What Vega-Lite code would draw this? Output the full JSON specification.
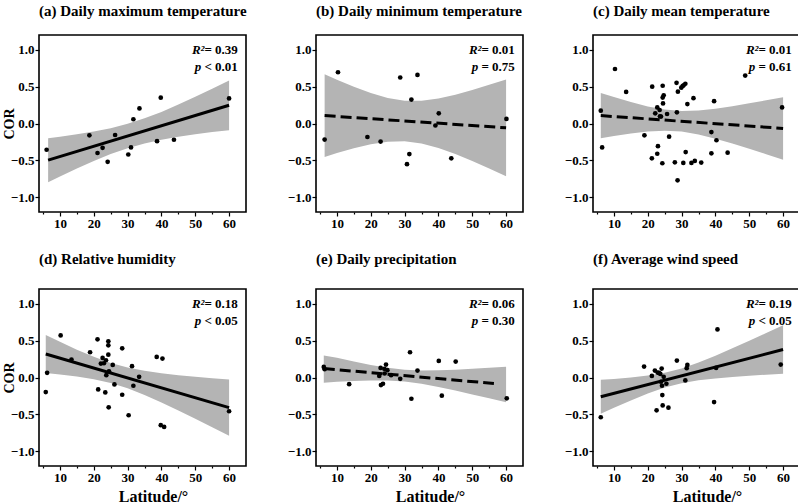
{
"$schema":"https://vega.github.io/schema/vega-lite/v6.json",
"padding":{"left":1,"top":3,"right":0,"bottom":0},
"background":"white",
"config":{
 "font":"Liberation Serif",
 "view":{"stroke":"black","strokeWidth":1.6},
 "axis":{"domain":false,"grid":false,"tickColor":"black","tickWidth":1.2,"labelFont":"Liberation Serif","labelFontWeight":"bold","labelFontSize":13,"labelColor":"black","titleFont":"Liberation Serif","titleFontWeight":"bold","titleColor":"black","titleFontSize":16},
 "title":{"font":"Liberation Serif","fontSize":15,"fontWeight":"bold","color":"black","anchor":"start","frame":"group","baseline":"alphabetic"}
},
"datasets":{
 "pts":[
  {"panel":"a","lat":6.05,"cor":-0.356},{"panel":"a","lat":18.7,"cor":-0.16},{"panel":"a","lat":21.1,"cor":-0.40},{"panel":"a","lat":22.6,"cor":-0.33},{"panel":"a","lat":24.1,"cor":-0.52},{"panel":"a","lat":26.3,"cor":-0.156},{"panel":"a","lat":30.2,"cor":-0.42},{"panel":"a","lat":31.0,"cor":-0.325},{"panel":"a","lat":31.7,"cor":0.058},{"panel":"a","lat":33.5,"cor":0.205},{"panel":"a","lat":38.7,"cor":-0.24},{"panel":"a","lat":39.8,"cor":0.35},{"panel":"a","lat":43.7,"cor":-0.22},{"panel":"a","lat":60,"cor":0.34},
  {"panel":"b","lat":6.35,"cor":-0.218},{"panel":"b","lat":10.3,"cor":0.695},{"panel":"b","lat":19.0,"cor":-0.183},{"panel":"b","lat":22.9,"cor":-0.245},{"panel":"b","lat":28.7,"cor":0.624},{"panel":"b","lat":30.7,"cor":-0.552},{"panel":"b","lat":31.4,"cor":-0.414},{"panel":"b","lat":32.0,"cor":0.325},{"panel":"b","lat":33.8,"cor":0.659},{"panel":"b","lat":39.1,"cor":-0.027},{"panel":"b","lat":40.1,"cor":0.138},{"panel":"b","lat":43.8,"cor":-0.472},{"panel":"b","lat":60.1,"cor":0.062},
  {"panel":"c","lat":6.1,"cor":0.174},{"panel":"c","lat":6.5,"cor":-0.325},{"panel":"c","lat":10.3,"cor":0.739},{"panel":"c","lat":13.6,"cor":0.428},{"panel":"c","lat":19.0,"cor":-0.16},{"panel":"c","lat":21.3,"cor":0.499},{"panel":"c","lat":21.2,"cor":-0.472},{"panel":"c","lat":22.2,"cor":0.138},{"panel":"c","lat":22.8,"cor":0.218},{"panel":"c","lat":23.0,"cor":-0.307},{"panel":"c","lat":22.8,"cor":-0.41},{"panel":"c","lat":23.5,"cor":0.183},{"panel":"c","lat":23.6,"cor":0.098},{"panel":"c","lat":23.9,"cor":0.094},{"panel":"c","lat":24.4,"cor":0.512},{"panel":"c","lat":24.4,"cor":0.352},{"panel":"c","lat":24.7,"cor":0.383},{"panel":"c","lat":24.5,"cor":0.272},{"panel":"c","lat":24.3,"cor":-0.539},{"panel":"c","lat":25.7,"cor":0.129},{"panel":"c","lat":26.3,"cor":-0.178},{"panel":"c","lat":28.0,"cor":-0.526},{"panel":"c","lat":28.5,"cor":0.552},{"panel":"c","lat":28.6,"cor":0.151},{"panel":"c","lat":28.9,"cor":0.432},{"panel":"c","lat":28.8,"cor":-0.771},{"panel":"c","lat":29.9,"cor":0.486},{"panel":"c","lat":30.3,"cor":0.508},{"panel":"c","lat":30.6,"cor":0.517},{"panel":"c","lat":30.5,"cor":-0.535},{"panel":"c","lat":31.1,"cor":0.539},{"panel":"c","lat":31.2,"cor":-0.388},{"panel":"c","lat":31.7,"cor":0.263},{"panel":"c","lat":32.9,"cor":-0.535},{"panel":"c","lat":33.5,"cor":0.343},{"panel":"c","lat":33.9,"cor":-0.508},{"panel":"c","lat":35.8,"cor":-0.53},{"panel":"c","lat":38.8,"cor":-0.116},{"panel":"c","lat":38.8,"cor":-0.405},{"panel":"c","lat":39.6,"cor":0.303},{"panel":"c","lat":40.3,"cor":-0.227},{"panel":"c","lat":43.6,"cor":-0.396},{"panel":"c","lat":48.8,"cor":0.65},{"panel":"c","lat":59.7,"cor":0.218},
  {"panel":"d","lat":5.8,"cor":-0.198},{"panel":"d","lat":6.2,"cor":0.063},{"panel":"d","lat":10.2,"cor":0.571},{"panel":"d","lat":13.4,"cor":0.243},{"panel":"d","lat":18.9,"cor":0.342},{"panel":"d","lat":21.1,"cor":0.517},{"panel":"d","lat":21.3,"cor":-0.162},{"panel":"d","lat":22.1,"cor":0.189},{"panel":"d","lat":22.6,"cor":0.265},{"panel":"d","lat":23.0,"cor":0.193},{"panel":"d","lat":23.4,"cor":-0.202},{"panel":"d","lat":23.6,"cor":0.234},{"panel":"d","lat":23.7,"cor":0.031},{"panel":"d","lat":24.3,"cor":0.49},{"panel":"d","lat":24.3,"cor":0.436},{"panel":"d","lat":24.3,"cor":0.31},{"panel":"d","lat":24.4,"cor":-0.404},{"panel":"d","lat":24.5,"cor":0.085},{"panel":"d","lat":25.6,"cor":0.171},{"panel":"d","lat":26.1,"cor":-0.094},{"panel":"d","lat":28.4,"cor":0.396},{"panel":"d","lat":28.4,"cor":-0.234},{"panel":"d","lat":30.3,"cor":-0.512},{"panel":"d","lat":31.3,"cor":0.153},{"panel":"d","lat":31.7,"cor":-0.112},{"panel":"d","lat":33.4,"cor":0.009},{"panel":"d","lat":38.6,"cor":0.279},{"panel":"d","lat":40.3,"cor":0.256},{"panel":"d","lat":39.8,"cor":-0.647},{"panel":"d","lat":40.8,"cor":-0.67},{"panel":"d","lat":60,"cor":-0.458},
  {"panel":"e","lat":6.1,"cor":0.144},{"panel":"e","lat":6.35,"cor":0.112},{"panel":"e","lat":13.6,"cor":-0.09},{"panel":"e","lat":22.5,"cor":0.022},{"panel":"e","lat":22.9,"cor":0.13},{"panel":"e","lat":23.0,"cor":-0.103},{"panel":"e","lat":23.6,"cor":-0.085},{"panel":"e","lat":24.0,"cor":0.117},{"panel":"e","lat":24.1,"cor":0.054},{"panel":"e","lat":24.5,"cor":0.175},{"panel":"e","lat":24.9,"cor":0.099},{"panel":"e","lat":26.0,"cor":0.031},{"panel":"e","lat":28.7,"cor":-0.018},{"panel":"e","lat":31.6,"cor":0.342},{"panel":"e","lat":32.0,"cor":-0.288},{"panel":"e","lat":33.8,"cor":0.094},{"panel":"e","lat":40.1,"cor":0.225},{"panel":"e","lat":41.0,"cor":-0.247},{"panel":"e","lat":45.1,"cor":0.216},{"panel":"e","lat":60.2,"cor":-0.283},
  {"panel":"f","lat":6.1,"cor":-0.539},{"panel":"f","lat":18.9,"cor":0.148},{"panel":"f","lat":21.2,"cor":0.022},{"panel":"f","lat":22.1,"cor":0.094},{"panel":"f","lat":22.6,"cor":-0.445},{"panel":"f","lat":22.9,"cor":0.067},{"panel":"f","lat":23.3,"cor":0.063},{"panel":"f","lat":23.7,"cor":0.049},{"panel":"f","lat":23.9,"cor":-0.058},{"panel":"f","lat":24.1,"cor":0.121},{"panel":"f","lat":24.2,"cor":-0.112},{"panel":"f","lat":24.3,"cor":-0.238},{"panel":"f","lat":24.4,"cor":-0.378},{"panel":"f","lat":24.7,"cor":0.009},{"panel":"f","lat":25.5,"cor":-0.085},{"panel":"f","lat":26.1,"cor":-0.409},{"panel":"f","lat":28.6,"cor":0.229},{"panel":"f","lat":31.1,"cor":-0.04},{"panel":"f","lat":31.5,"cor":0.126},{"panel":"f","lat":31.7,"cor":0.171},{"panel":"f","lat":39.6,"cor":-0.333},{"panel":"f","lat":40.2,"cor":0.13},{"panel":"f","lat":40.6,"cor":0.652},{"panel":"f","lat":59.3,"cor":0.175}
 ],
 "band":[
  {"panel":"a","lat":6.5,"lo":-0.795,"hi":-0.199},{"panel":"a","lat":10,"lo":-0.717,"hi":-0.179},{"panel":"a","lat":15,"lo":-0.610,"hi":-0.147},{"panel":"a","lat":20,"lo":-0.508,"hi":-0.110},{"panel":"a","lat":25,"lo":-0.415,"hi":-0.063},{"panel":"a","lat":30,"lo":-0.335,"hi":-0.005},{"panel":"a","lat":35,"lo":-0.270,"hi":0.070},{"panel":"a","lat":40,"lo":-0.219,"hi":0.157},{"panel":"a","lat":45,"lo":-0.179,"hi":0.257},{"panel":"a","lat":50,"lo":-0.146,"hi":0.362},{"panel":"a","lat":55,"lo":-0.116,"hi":0.472},{"panel":"a","lat":60,"lo":-0.090,"hi":0.584},
  {"panel":"b","lat":6.35,"lo":-0.453,"hi":0.667},{"panel":"b","lat":10,"lo":-0.401,"hi":0.593},{"panel":"b","lat":15,"lo":-0.337,"hi":0.497},{"panel":"b","lat":20,"lo":-0.283,"hi":0.413},{"panel":"b","lat":25,"lo":-0.248,"hi":0.347},{"panel":"b","lat":30,"lo":-0.242,"hi":0.310},{"panel":"b","lat":35,"lo":-0.272,"hi":0.310},{"panel":"b","lat":40,"lo":-0.333,"hi":0.340},{"panel":"b","lat":45,"lo":-0.414,"hi":0.390},{"panel":"b","lat":50,"lo":-0.508,"hi":0.453},{"panel":"b","lat":55,"lo":-0.609,"hi":0.524},{"panel":"b","lat":60,"lo":-0.714,"hi":0.598},
  {"panel":"c","lat":6.1,"lo":-0.200,"hi":0.414},{"panel":"c","lat":10,"lo":-0.170,"hi":0.358},{"panel":"c","lat":15,"lo":-0.135,"hi":0.292},{"panel":"c","lat":20,"lo":-0.108,"hi":0.232},{"panel":"c","lat":25,"lo":-0.097,"hi":0.189},{"panel":"c","lat":30,"lo":-0.110,"hi":0.170},{"panel":"c","lat":35,"lo":-0.150,"hi":0.177},{"panel":"c","lat":40,"lo":-0.206,"hi":0.201},{"panel":"c","lat":45,"lo":-0.272,"hi":0.235},{"panel":"c","lat":50,"lo":-0.343,"hi":0.273},{"panel":"c","lat":55,"lo":-0.416,"hi":0.314},{"panel":"c","lat":60,"lo":-0.491,"hi":0.357},
  {"panel":"d","lat":5.8,"lo":0.061,"hi":0.577},{"panel":"d","lat":10,"lo":0.041,"hi":0.484},{"panel":"d","lat":15,"lo":0.013,"hi":0.377},{"panel":"d","lat":20,"lo":-0.023,"hi":0.280},{"panel":"d","lat":25,"lo":-0.075,"hi":0.197},{"panel":"d","lat":30,"lo":-0.146,"hi":0.134},{"panel":"d","lat":35,"lo":-0.236,"hi":0.090},{"panel":"d","lat":40,"lo":-0.338,"hi":0.057},{"panel":"d","lat":45,"lo":-0.447,"hi":0.032},{"panel":"d","lat":50,"lo":-0.559,"hi":0.010},{"panel":"d","lat":55,"lo":-0.674,"hi":-0.009},{"panel":"d","lat":60,"lo":-0.791,"hi":-0.027},
  {"panel":"e","lat":6.1,"lo":-0.070,"hi":0.300},{"panel":"e","lat":10,"lo":-0.056,"hi":0.267},{"panel":"e","lat":15,"lo":-0.046,"hi":0.216},{"panel":"e","lat":20,"lo":-0.039,"hi":0.169},{"panel":"e","lat":25,"lo":-0.041,"hi":0.131},{"panel":"e","lat":30,"lo":-0.055,"hi":0.105},{"panel":"e","lat":35,"lo":-0.086,"hi":0.096},{"panel":"e","lat":40,"lo":-0.129,"hi":0.098},{"panel":"e","lat":45,"lo":-0.177,"hi":0.106},{"panel":"e","lat":50,"lo":-0.229,"hi":0.118},{"panel":"e","lat":55,"lo":-0.282,"hi":0.131},{"panel":"e","lat":60,"lo":-0.337,"hi":0.145},
  {"panel":"f","lat":6.1,"lo":-0.490,"hi":-0.032},{"panel":"f","lat":10,"lo":-0.410,"hi":-0.019},{"panel":"f","lat":15,"lo":-0.311,"hi":0.000},{"panel":"f","lat":20,"lo":-0.217,"hi":0.026},{"panel":"f","lat":25,"lo":-0.136,"hi":0.064},{"panel":"f","lat":30,"lo":-0.077,"hi":0.123},{"panel":"f","lat":35,"lo":-0.038,"hi":0.203},{"panel":"f","lat":40,"lo":-0.012,"hi":0.296},{"panel":"f","lat":45,"lo":0.007,"hi":0.396},{"panel":"f","lat":50,"lo":0.024,"hi":0.498},{"panel":"f","lat":55,"lo":0.038,"hi":0.603},{"panel":"f","lat":60,"lo":0.052,"hi":0.708}
 ],
 "fit":[
  {"panel":"a","lat":6.5,"fit":-0.497},{"panel":"a","lat":60,"fit":0.247},
  {"panel":"b","lat":6.35,"fit":0.107},{"panel":"b","lat":60,"fit":-0.058},
  {"panel":"c","lat":6.1,"fit":0.107},{"panel":"c","lat":60,"fit":-0.067},
  {"panel":"d","lat":5.8,"fit":0.319},{"panel":"d","lat":60,"fit":-0.409},
  {"panel":"e","lat":6.1,"fit":0.121},{"panel":"e","lat":56.4,"fit":-0.081},
  {"panel":"f","lat":6.1,"fit":-0.261},{"panel":"f","lat":60,"fit":0.380}
 ],
 "stats":[
  {"panel":"a","r2":"= 0.39","pv":"< 0.01"},
  {"panel":"b","r2":"= 0.01","pv":"= 0.75"},
  {"panel":"c","r2":"= 0.01","pv":"= 0.61"},
  {"panel":"d","r2":"= 0.18","pv":"< 0.05"},
  {"panel":"e","r2":"= 0.06","pv":"= 0.30"},
  {"panel":"f","r2":"= 0.19","pv":"< 0.05"}
 ]
},
"columns":3,
"spacing":{"row":77,"column":70},
"bounds":"flush",
"concat":[
 {"width":207,"height":177,"title":{"text":"(a) Daily maximum temperature","offset":16},
  "resolve":{"axis":{"x":"independent","y":"independent"}},
  "layer":[
   {"data":{"name":"band"},"transform":[{"filter":"datum.panel==='a'"}],"mark":{"type":"area","color":"#b4b4b4","opacity":1},
    "encoding":{"x":{"field":"lat","type":"quantitative","scale":{"domain":[3.8,65],"nice":false,"zero":false},"axis":{"orient":"bottom","values":[5,15,25,35,45,55],"labels":false,"tickSize":2,"title":null}},"y":{"field":"lo","type":"quantitative","scale":{"domain":[-1.2,1.2],"nice":false,"zero":false},"axis":null},"y2":{"field":"hi"}}},
   {"data":{"name":"fit"},"transform":[{"filter":"datum.panel==='a'"}],"mark":{"type":"line","color":"black","strokeWidth":3},
    "encoding":{"x":{"field":"lat","type":"quantitative","scale":{"domain":[3.8,65],"nice":false,"zero":false},"axis":null},"y":{"field":"fit","type":"quantitative","scale":{"domain":[-1.2,1.2],"nice":false,"zero":false},"axis":null}}},
   {"data":{"name":"pts"},"transform":[{"filter":"datum.panel==='a'"}],"mark":{"type":"circle","color":"black","size":22,"opacity":1},
    "encoding":{"x":{"field":"lat","type":"quantitative","scale":{"domain":[3.8,65],"nice":false,"zero":false},"axis":{"orient":"bottom","values":[10,20,30,40,50,60],"tickSize":4,"labelPadding":1,"title":null}},"y":{"field":"cor","type":"quantitative","scale":{"domain":[-1.2,1.2],"nice":false,"zero":false},"axis":{"orient":"left","values":[-1,-0.5,0,0.5,1],"format":".1f","tickSize":4,"labelPadding":1,"title":"COR","titleFontSize":14,"titlePadding":-6}}}},
   {"data":{"name":"stats"},"transform":[{"filter":"datum.panel==='a'"}],"mark":{"type":"text","align":"right","baseline":"middle","fontSize":13,"fontWeight":"bold","color":"black"},
    "encoding":{"x":{"datum":62.6,"type":"quantitative","scale":{"domain":[3.8,65],"nice":false,"zero":false},"axis":null},"y":{"datum":1.0,"type":"quantitative","scale":{"domain":[-1.2,1.2],"nice":false,"zero":false},"axis":null},"text":{"field":"r2"}}},
   {"data":{"name":"stats"},"transform":[{"filter":"datum.panel==='a'"}],"mark":{"type":"text","align":"right","baseline":"middle","fontSize":13,"fontWeight":"bold","fontStyle":"italic","color":"black","dx":-33.4},
    "encoding":{"x":{"datum":62.6,"type":"quantitative","scale":{"domain":[3.8,65],"nice":false,"zero":false},"axis":null},"y":{"datum":1.0,"type":"quantitative","scale":{"domain":[-1.2,1.2],"nice":false,"zero":false},"axis":null},"text":{"value":"R²"}}},
   {"data":{"name":"stats"},"transform":[{"filter":"datum.panel==='a'"}],"mark":{"type":"text","align":"right","baseline":"middle","fontSize":13,"fontWeight":"bold","color":"black"},
    "encoding":{"x":{"datum":62.6,"type":"quantitative","scale":{"domain":[3.8,65],"nice":false,"zero":false},"axis":null},"y":{"datum":0.77,"type":"quantitative","scale":{"domain":[-1.2,1.2],"nice":false,"zero":false},"axis":null},"text":{"field":"pv"}}},
   {"data":{"name":"stats"},"transform":[{"filter":"datum.panel==='a'"}],"mark":{"type":"text","align":"right","baseline":"middle","fontSize":13,"fontWeight":"bold","fontStyle":"italic","color":"black","dx":-36.7},
    "encoding":{"x":{"datum":62.6,"type":"quantitative","scale":{"domain":[3.8,65],"nice":false,"zero":false},"axis":null},"y":{"datum":0.77,"type":"quantitative","scale":{"domain":[-1.2,1.2],"nice":false,"zero":false},"axis":null},"text":{"value":"p"}}}
  ]},
 {"width":207,"height":177,"title":{"text":"(b) Daily minimum temperature","offset":16},
  "resolve":{"axis":{"x":"independent","y":"independent"}},
  "layer":[
   {"data":{"name":"band"},"transform":[{"filter":"datum.panel==='b'"}],"mark":{"type":"area","color":"#b4b4b4","opacity":1},
    "encoding":{"x":{"field":"lat","type":"quantitative","scale":{"domain":[3.8,65],"nice":false,"zero":false},"axis":{"orient":"bottom","values":[5,15,25,35,45,55],"labels":false,"tickSize":2,"title":null}},"y":{"field":"lo","type":"quantitative","scale":{"domain":[-1.2,1.2],"nice":false,"zero":false},"axis":null},"y2":{"field":"hi"}}},
   {"data":{"name":"fit"},"transform":[{"filter":"datum.panel==='b'"}],"mark":{"type":"line","color":"black","strokeWidth":3,"strokeDash":[11,5]},
    "encoding":{"x":{"field":"lat","type":"quantitative","scale":{"domain":[3.8,65],"nice":false,"zero":false},"axis":null},"y":{"field":"fit","type":"quantitative","scale":{"domain":[-1.2,1.2],"nice":false,"zero":false},"axis":null}}},
   {"data":{"name":"pts"},"transform":[{"filter":"datum.panel==='b'"}],"mark":{"type":"circle","color":"black","size":22,"opacity":1},
    "encoding":{"x":{"field":"lat","type":"quantitative","scale":{"domain":[3.8,65],"nice":false,"zero":false},"axis":{"orient":"bottom","values":[10,20,30,40,50,60],"tickSize":4,"labelPadding":1,"title":null}},"y":{"field":"cor","type":"quantitative","scale":{"domain":[-1.2,1.2],"nice":false,"zero":false},"axis":{"orient":"left","values":[-1,-0.5,0,0.5,1],"format":".1f","tickSize":4,"labelPadding":1,"title":null}}}},
   {"data":{"name":"stats"},"transform":[{"filter":"datum.panel==='b'"}],"mark":{"type":"text","align":"right","baseline":"middle","fontSize":13,"fontWeight":"bold","color":"black"},
    "encoding":{"x":{"datum":62.6,"type":"quantitative","scale":{"domain":[3.8,65],"nice":false,"zero":false},"axis":null},"y":{"datum":1.0,"type":"quantitative","scale":{"domain":[-1.2,1.2],"nice":false,"zero":false},"axis":null},"text":{"field":"r2"}}},
   {"data":{"name":"stats"},"transform":[{"filter":"datum.panel==='b'"}],"mark":{"type":"text","align":"right","baseline":"middle","fontSize":13,"fontWeight":"bold","fontStyle":"italic","color":"black","dx":-33.4},
    "encoding":{"x":{"datum":62.6,"type":"quantitative","scale":{"domain":[3.8,65],"nice":false,"zero":false},"axis":null},"y":{"datum":1.0,"type":"quantitative","scale":{"domain":[-1.2,1.2],"nice":false,"zero":false},"axis":null},"text":{"value":"R²"}}},
   {"data":{"name":"stats"},"transform":[{"filter":"datum.panel==='b'"}],"mark":{"type":"text","align":"right","baseline":"middle","fontSize":13,"fontWeight":"bold","color":"black"},
    "encoding":{"x":{"datum":62.6,"type":"quantitative","scale":{"domain":[3.8,65],"nice":false,"zero":false},"axis":null},"y":{"datum":0.77,"type":"quantitative","scale":{"domain":[-1.2,1.2],"nice":false,"zero":false},"axis":null},"text":{"field":"pv"}}},
   {"data":{"name":"stats"},"transform":[{"filter":"datum.panel==='b'"}],"mark":{"type":"text","align":"right","baseline":"middle","fontSize":13,"fontWeight":"bold","fontStyle":"italic","color":"black","dx":-36.7},
    "encoding":{"x":{"datum":62.6,"type":"quantitative","scale":{"domain":[3.8,65],"nice":false,"zero":false},"axis":null},"y":{"datum":0.77,"type":"quantitative","scale":{"domain":[-1.2,1.2],"nice":false,"zero":false},"axis":null},"text":{"value":"p"}}}
  ]},
 {"width":207,"height":177,"title":{"text":"(c) Daily mean temperature","offset":16},
  "resolve":{"axis":{"x":"independent","y":"independent"}},
  "layer":[
   {"data":{"name":"band"},"transform":[{"filter":"datum.panel==='c'"}],"mark":{"type":"area","color":"#b4b4b4","opacity":1},
    "encoding":{"x":{"field":"lat","type":"quantitative","scale":{"domain":[3.8,65],"nice":false,"zero":false},"axis":{"orient":"bottom","values":[5,15,25,35,45,55],"labels":false,"tickSize":2,"title":null}},"y":{"field":"lo","type":"quantitative","scale":{"domain":[-1.2,1.2],"nice":false,"zero":false},"axis":null},"y2":{"field":"hi"}}},
   {"data":{"name":"fit"},"transform":[{"filter":"datum.panel==='c'"}],"mark":{"type":"line","color":"black","strokeWidth":3,"strokeDash":[11,5]},
    "encoding":{"x":{"field":"lat","type":"quantitative","scale":{"domain":[3.8,65],"nice":false,"zero":false},"axis":null},"y":{"field":"fit","type":"quantitative","scale":{"domain":[-1.2,1.2],"nice":false,"zero":false},"axis":null}}},
   {"data":{"name":"pts"},"transform":[{"filter":"datum.panel==='c'"}],"mark":{"type":"circle","color":"black","size":22,"opacity":1},
    "encoding":{"x":{"field":"lat","type":"quantitative","scale":{"domain":[3.8,65],"nice":false,"zero":false},"axis":{"orient":"bottom","values":[10,20,30,40,50,60],"tickSize":4,"labelPadding":1,"title":null}},"y":{"field":"cor","type":"quantitative","scale":{"domain":[-1.2,1.2],"nice":false,"zero":false},"axis":{"orient":"left","values":[-1,-0.5,0,0.5,1],"format":".1f","tickSize":4,"labelPadding":1,"title":null}}}},
   {"data":{"name":"stats"},"transform":[{"filter":"datum.panel==='c'"}],"mark":{"type":"text","align":"right","baseline":"middle","fontSize":13,"fontWeight":"bold","color":"black"},
    "encoding":{"x":{"datum":62.6,"type":"quantitative","scale":{"domain":[3.8,65],"nice":false,"zero":false},"axis":null},"y":{"datum":1.0,"type":"quantitative","scale":{"domain":[-1.2,1.2],"nice":false,"zero":false},"axis":null},"text":{"field":"r2"}}},
   {"data":{"name":"stats"},"transform":[{"filter":"datum.panel==='c'"}],"mark":{"type":"text","align":"right","baseline":"middle","fontSize":13,"fontWeight":"bold","fontStyle":"italic","color":"black","dx":-33.4},
    "encoding":{"x":{"datum":62.6,"type":"quantitative","scale":{"domain":[3.8,65],"nice":false,"zero":false},"axis":null},"y":{"datum":1.0,"type":"quantitative","scale":{"domain":[-1.2,1.2],"nice":false,"zero":false},"axis":null},"text":{"value":"R²"}}},
   {"data":{"name":"stats"},"transform":[{"filter":"datum.panel==='c'"}],"mark":{"type":"text","align":"right","baseline":"middle","fontSize":13,"fontWeight":"bold","color":"black"},
    "encoding":{"x":{"datum":62.6,"type":"quantitative","scale":{"domain":[3.8,65],"nice":false,"zero":false},"axis":null},"y":{"datum":0.77,"type":"quantitative","scale":{"domain":[-1.2,1.2],"nice":false,"zero":false},"axis":null},"text":{"field":"pv"}}},
   {"data":{"name":"stats"},"transform":[{"filter":"datum.panel==='c'"}],"mark":{"type":"text","align":"right","baseline":"middle","fontSize":13,"fontWeight":"bold","fontStyle":"italic","color":"black","dx":-36.7},
    "encoding":{"x":{"datum":62.6,"type":"quantitative","scale":{"domain":[3.8,65],"nice":false,"zero":false},"axis":null},"y":{"datum":0.77,"type":"quantitative","scale":{"domain":[-1.2,1.2],"nice":false,"zero":false},"axis":null},"text":{"value":"p"}}}
  ]},
 {"width":207,"height":177,"title":{"text":"(d) Relative humidity","offset":22},
  "resolve":{"axis":{"x":"independent","y":"independent"}},
  "layer":[
   {"data":{"name":"band"},"transform":[{"filter":"datum.panel==='d'"}],"mark":{"type":"area","color":"#b4b4b4","opacity":1},
    "encoding":{"x":{"field":"lat","type":"quantitative","scale":{"domain":[3.8,65],"nice":false,"zero":false},"axis":{"orient":"bottom","values":[5,15,25,35,45,55],"labels":false,"tickSize":2,"title":null}},"y":{"field":"lo","type":"quantitative","scale":{"domain":[-1.2,1.2],"nice":false,"zero":false},"axis":null},"y2":{"field":"hi"}}},
   {"data":{"name":"fit"},"transform":[{"filter":"datum.panel==='d'"}],"mark":{"type":"line","color":"black","strokeWidth":3},
    "encoding":{"x":{"field":"lat","type":"quantitative","scale":{"domain":[3.8,65],"nice":false,"zero":false},"axis":null},"y":{"field":"fit","type":"quantitative","scale":{"domain":[-1.2,1.2],"nice":false,"zero":false},"axis":null}}},
   {"data":{"name":"pts"},"transform":[{"filter":"datum.panel==='d'"}],"mark":{"type":"circle","color":"black","size":22,"opacity":1},
    "encoding":{"x":{"field":"lat","type":"quantitative","scale":{"domain":[3.8,65],"nice":false,"zero":false},"axis":{"orient":"bottom","values":[10,20,30,40,50,60],"tickSize":4,"labelPadding":1,"title":"Latitude/°","titlePadding":4,"titleX":114,"titleAlign":"center"}},"y":{"field":"cor","type":"quantitative","scale":{"domain":[-1.2,1.2],"nice":false,"zero":false},"axis":{"orient":"left","values":[-1,-0.5,0,0.5,1],"format":".1f","tickSize":4,"labelPadding":1,"title":"COR","titleFontSize":14,"titlePadding":-6}}}},
   {"data":{"name":"stats"},"transform":[{"filter":"datum.panel==='d'"}],"mark":{"type":"text","align":"right","baseline":"middle","fontSize":13,"fontWeight":"bold","color":"black"},
    "encoding":{"x":{"datum":62.6,"type":"quantitative","scale":{"domain":[3.8,65],"nice":false,"zero":false},"axis":null},"y":{"datum":1.0,"type":"quantitative","scale":{"domain":[-1.2,1.2],"nice":false,"zero":false},"axis":null},"text":{"field":"r2"}}},
   {"data":{"name":"stats"},"transform":[{"filter":"datum.panel==='d'"}],"mark":{"type":"text","align":"right","baseline":"middle","fontSize":13,"fontWeight":"bold","fontStyle":"italic","color":"black","dx":-33.4},
    "encoding":{"x":{"datum":62.6,"type":"quantitative","scale":{"domain":[3.8,65],"nice":false,"zero":false},"axis":null},"y":{"datum":1.0,"type":"quantitative","scale":{"domain":[-1.2,1.2],"nice":false,"zero":false},"axis":null},"text":{"value":"R²"}}},
   {"data":{"name":"stats"},"transform":[{"filter":"datum.panel==='d'"}],"mark":{"type":"text","align":"right","baseline":"middle","fontSize":13,"fontWeight":"bold","color":"black"},
    "encoding":{"x":{"datum":62.6,"type":"quantitative","scale":{"domain":[3.8,65],"nice":false,"zero":false},"axis":null},"y":{"datum":0.77,"type":"quantitative","scale":{"domain":[-1.2,1.2],"nice":false,"zero":false},"axis":null},"text":{"field":"pv"}}},
   {"data":{"name":"stats"},"transform":[{"filter":"datum.panel==='d'"}],"mark":{"type":"text","align":"right","baseline":"middle","fontSize":13,"fontWeight":"bold","fontStyle":"italic","color":"black","dx":-36.7},
    "encoding":{"x":{"datum":62.6,"type":"quantitative","scale":{"domain":[3.8,65],"nice":false,"zero":false},"axis":null},"y":{"datum":0.77,"type":"quantitative","scale":{"domain":[-1.2,1.2],"nice":false,"zero":false},"axis":null},"text":{"value":"p"}}}
  ]},
 {"width":207,"height":177,"title":{"text":"(e) Daily precipitation","offset":22},
  "resolve":{"axis":{"x":"independent","y":"independent"}},
  "layer":[
   {"data":{"name":"band"},"transform":[{"filter":"datum.panel==='e'"}],"mark":{"type":"area","color":"#b4b4b4","opacity":1},
    "encoding":{"x":{"field":"lat","type":"quantitative","scale":{"domain":[3.8,65],"nice":false,"zero":false},"axis":{"orient":"bottom","values":[5,15,25,35,45,55],"labels":false,"tickSize":2,"title":null}},"y":{"field":"lo","type":"quantitative","scale":{"domain":[-1.2,1.2],"nice":false,"zero":false},"axis":null},"y2":{"field":"hi"}}},
   {"data":{"name":"fit"},"transform":[{"filter":"datum.panel==='e'"}],"mark":{"type":"line","color":"black","strokeWidth":3,"strokeDash":[11,5]},
    "encoding":{"x":{"field":"lat","type":"quantitative","scale":{"domain":[3.8,65],"nice":false,"zero":false},"axis":null},"y":{"field":"fit","type":"quantitative","scale":{"domain":[-1.2,1.2],"nice":false,"zero":false},"axis":null}}},
   {"data":{"name":"pts"},"transform":[{"filter":"datum.panel==='e'"}],"mark":{"type":"circle","color":"black","size":22,"opacity":1},
    "encoding":{"x":{"field":"lat","type":"quantitative","scale":{"domain":[3.8,65],"nice":false,"zero":false},"axis":{"orient":"bottom","values":[10,20,30,40,50,60],"tickSize":4,"labelPadding":1,"title":"Latitude/°","titlePadding":4,"titleX":114,"titleAlign":"center"}},"y":{"field":"cor","type":"quantitative","scale":{"domain":[-1.2,1.2],"nice":false,"zero":false},"axis":{"orient":"left","values":[-1,-0.5,0,0.5,1],"format":".1f","tickSize":4,"labelPadding":1,"title":null}}}},
   {"data":{"name":"stats"},"transform":[{"filter":"datum.panel==='e'"}],"mark":{"type":"text","align":"right","baseline":"middle","fontSize":13,"fontWeight":"bold","color":"black"},
    "encoding":{"x":{"datum":62.6,"type":"quantitative","scale":{"domain":[3.8,65],"nice":false,"zero":false},"axis":null},"y":{"datum":1.0,"type":"quantitative","scale":{"domain":[-1.2,1.2],"nice":false,"zero":false},"axis":null},"text":{"field":"r2"}}},
   {"data":{"name":"stats"},"transform":[{"filter":"datum.panel==='e'"}],"mark":{"type":"text","align":"right","baseline":"middle","fontSize":13,"fontWeight":"bold","fontStyle":"italic","color":"black","dx":-33.4},
    "encoding":{"x":{"datum":62.6,"type":"quantitative","scale":{"domain":[3.8,65],"nice":false,"zero":false},"axis":null},"y":{"datum":1.0,"type":"quantitative","scale":{"domain":[-1.2,1.2],"nice":false,"zero":false},"axis":null},"text":{"value":"R²"}}},
   {"data":{"name":"stats"},"transform":[{"filter":"datum.panel==='e'"}],"mark":{"type":"text","align":"right","baseline":"middle","fontSize":13,"fontWeight":"bold","color":"black"},
    "encoding":{"x":{"datum":62.6,"type":"quantitative","scale":{"domain":[3.8,65],"nice":false,"zero":false},"axis":null},"y":{"datum":0.77,"type":"quantitative","scale":{"domain":[-1.2,1.2],"nice":false,"zero":false},"axis":null},"text":{"field":"pv"}}},
   {"data":{"name":"stats"},"transform":[{"filter":"datum.panel==='e'"}],"mark":{"type":"text","align":"right","baseline":"middle","fontSize":13,"fontWeight":"bold","fontStyle":"italic","color":"black","dx":-36.7},
    "encoding":{"x":{"datum":62.6,"type":"quantitative","scale":{"domain":[3.8,65],"nice":false,"zero":false},"axis":null},"y":{"datum":0.77,"type":"quantitative","scale":{"domain":[-1.2,1.2],"nice":false,"zero":false},"axis":null},"text":{"value":"p"}}}
  ]},
 {"width":207,"height":177,"title":{"text":"(f) Average wind speed","offset":22},
  "resolve":{"axis":{"x":"independent","y":"independent"}},
  "layer":[
   {"data":{"name":"band"},"transform":[{"filter":"datum.panel==='f'"}],"mark":{"type":"area","color":"#b4b4b4","opacity":1},
    "encoding":{"x":{"field":"lat","type":"quantitative","scale":{"domain":[3.8,65],"nice":false,"zero":false},"axis":{"orient":"bottom","values":[5,15,25,35,45,55],"labels":false,"tickSize":2,"title":null}},"y":{"field":"lo","type":"quantitative","scale":{"domain":[-1.2,1.2],"nice":false,"zero":false},"axis":null},"y2":{"field":"hi"}}},
   {"data":{"name":"fit"},"transform":[{"filter":"datum.panel==='f'"}],"mark":{"type":"line","color":"black","strokeWidth":3},
    "encoding":{"x":{"field":"lat","type":"quantitative","scale":{"domain":[3.8,65],"nice":false,"zero":false},"axis":null},"y":{"field":"fit","type":"quantitative","scale":{"domain":[-1.2,1.2],"nice":false,"zero":false},"axis":null}}},
   {"data":{"name":"pts"},"transform":[{"filter":"datum.panel==='f'"}],"mark":{"type":"circle","color":"black","size":22,"opacity":1},
    "encoding":{"x":{"field":"lat","type":"quantitative","scale":{"domain":[3.8,65],"nice":false,"zero":false},"axis":{"orient":"bottom","values":[10,20,30,40,50,60],"tickSize":4,"labelPadding":1,"title":"Latitude/°","titlePadding":4,"titleX":114,"titleAlign":"center"}},"y":{"field":"cor","type":"quantitative","scale":{"domain":[-1.2,1.2],"nice":false,"zero":false},"axis":{"orient":"left","values":[-1,-0.5,0,0.5,1],"format":".1f","tickSize":4,"labelPadding":1,"title":null}}}},
   {"data":{"name":"stats"},"transform":[{"filter":"datum.panel==='f'"}],"mark":{"type":"text","align":"right","baseline":"middle","fontSize":13,"fontWeight":"bold","color":"black"},
    "encoding":{"x":{"datum":62.6,"type":"quantitative","scale":{"domain":[3.8,65],"nice":false,"zero":false},"axis":null},"y":{"datum":1.0,"type":"quantitative","scale":{"domain":[-1.2,1.2],"nice":false,"zero":false},"axis":null},"text":{"field":"r2"}}},
   {"data":{"name":"stats"},"transform":[{"filter":"datum.panel==='f'"}],"mark":{"type":"text","align":"right","baseline":"middle","fontSize":13,"fontWeight":"bold","fontStyle":"italic","color":"black","dx":-33.4},
    "encoding":{"x":{"datum":62.6,"type":"quantitative","scale":{"domain":[3.8,65],"nice":false,"zero":false},"axis":null},"y":{"datum":1.0,"type":"quantitative","scale":{"domain":[-1.2,1.2],"nice":false,"zero":false},"axis":null},"text":{"value":"R²"}}},
   {"data":{"name":"stats"},"transform":[{"filter":"datum.panel==='f'"}],"mark":{"type":"text","align":"right","baseline":"middle","fontSize":13,"fontWeight":"bold","color":"black"},
    "encoding":{"x":{"datum":62.6,"type":"quantitative","scale":{"domain":[3.8,65],"nice":false,"zero":false},"axis":null},"y":{"datum":0.77,"type":"quantitative","scale":{"domain":[-1.2,1.2],"nice":false,"zero":false},"axis":null},"text":{"field":"pv"}}},
   {"data":{"name":"stats"},"transform":[{"filter":"datum.panel==='f'"}],"mark":{"type":"text","align":"right","baseline":"middle","fontSize":13,"fontWeight":"bold","fontStyle":"italic","color":"black","dx":-36.7},
    "encoding":{"x":{"datum":62.6,"type":"quantitative","scale":{"domain":[3.8,65],"nice":false,"zero":false},"axis":null},"y":{"datum":0.77,"type":"quantitative","scale":{"domain":[-1.2,1.2],"nice":false,"zero":false},"axis":null},"text":{"value":"p"}}}
  ]}
]
}
